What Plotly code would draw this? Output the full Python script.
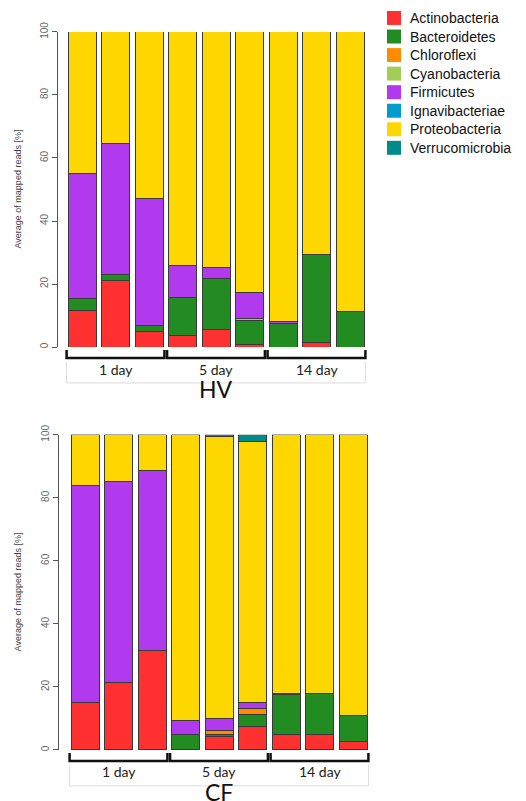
import plotly.graph_objects as go

W, H = 526, 801

phyla = ["Actinobacteria", "Bacteroidetes", "Chloroflexi", "Cyanobacteria",
         "Firmicutes", "Ignavibacteriae", "Proteobacteria", "Verrucomicrobia"]
colors = ["#FF3030", "#228B22", "#FF8C00", "#A2CD5A",
          "#B23AEE", "#009ACD", "#FFD700", "#008B8B"]

samples = ["1d-a", "1d-b", "1d-c", "5d-a", "5d-b", "5d-c", "14d-a", "14d-b", "14d-c"]
groups = ["1 day", "5 day", "14 day"]

# HV values (% of mapped reads), stacked bottom to top in phyla order
hv_actinobacteria = [11.7, 21.1, 4.9, 3.7, 5.5, 0.8, 0.0, 1.5, 0.0]
hv_bacteroidetes = [3.7, 2.0, 2.1, 12.0, 16.3, 7.7, 7.5, 27.9, 11.4]
hv_chloroflexi = [0, 0, 0, 0, 0, 0, 0, 0, 0]
hv_cyanobacteria = [0, 0, 0, 0, 0, 0.5, 0, 0, 0]
hv_firmicutes = [39.6, 41.4, 40.3, 10.1, 3.6, 8.3, 0.7, 0.0, 0.0]
hv_ignavibacteriae = [0, 0, 0, 0, 0, 0, 0, 0, 0]
hv_proteobacteria = [45.0, 35.5, 52.7, 74.2, 74.6, 82.7, 91.8, 70.6, 88.6]
hv_verrucomicrobia = [0, 0, 0, 0, 0, 0, 0, 0, 0]

# CF values
cf_actinobacteria = [15.0, 21.4, 31.5, 0.3, 4.4, 7.6, 5.0, 5.0, 2.7]
cf_bacteroidetes = [0, 0, 0, 4.7, 0.6, 3.7, 12.6, 12.8, 8.1]
cf_chloroflexi = [0, 0, 0, 0, 1.3, 1.7, 0, 0, 0]
cf_cyanobacteria = [0, 0, 0, 0, 0, 0, 0, 0, 0]
cf_firmicutes = [68.9, 63.8, 57.3, 4.4, 3.7, 2.0, 0.2, 0.2, 0.2]
cf_ignavibacteriae = [0, 0, 0, 0, 0, 0, 0, 0, 0]
cf_proteobacteria = [16.1, 14.8, 11.2, 90.6, 89.5, 82.8, 82.2, 82.0, 89.0]
cf_verrucomicrobia = [0, 0, 0, 0, 0.5, 2.2, 0, 0, 0]

hv = [hv_actinobacteria, hv_bacteroidetes, hv_chloroflexi, hv_cyanobacteria,
      hv_firmicutes, hv_ignavibacteriae, hv_proteobacteria, hv_verrucomicrobia]
cf = [cf_actinobacteria, cf_bacteroidetes, cf_chloroflexi, cf_cyanobacteria,
      cf_firmicutes, cf_ignavibacteriae, cf_proteobacteria, cf_verrucomicrobia]

yticks = [0, 20, 40, 60, 80, 100]

fig = go.Figure()

panels = [
    # (data, xaxis, yaxis, x_px_left, y_px_top, y_px_bottom, axis_px, title)
    (hv, "x", "y", 65.25, 31, 347, 57, "HV"),
    (cf, "x2", "y2", 68.25, 435, 751, 58, "CF"),
]
slot = 33.5
n = len(samples)


def px2py(p):
    # target pixel (from top) -> paper fraction, with a small vertical correction
    q = (p - 9) / 0.989
    return 1 - q / H


shapes = []
annotations = []

for pi, (data, xa, ya, xl, yt, yb, axpx, title) in enumerate(panels):
    for name, col, vals in zip(phyla, colors, data):
        fig.add_trace(go.Bar(
            x=list(range(n)), y=vals, name=name, xaxis=xa, yaxis=ya,
            marker=dict(color=col, line=dict(color="#3a3a3a", width=1)),
            showlegend=False, hoverinfo="name+y"))
    xr = xl + slot * n
    sfx = "" if pi == 0 else "2"
    fig.update_layout(**{
        "xaxis" + sfx: dict(domain=[xl / W, xr / W], range=[-0.5, n - 0.5],
                            visible=False, anchor=ya),
        "yaxis" + sfx: dict(domain=[px2py(yb), px2py(yt)], range=[0, 100],
                            anchor="free", position=axpx / W,
                            showgrid=False, zeroline=False,
                            showline=True, linecolor="#555", linewidth=1,
                            ticks="outside", ticklen=5, tickcolor="#555",
                            tickvals=yticks, tickangle=-90,
                            tickfont=dict(family="Liberation Sans", size=10, color="#666")),
    })

    def xpaper(x):
        return (xl + (x + 0.5) * slot) / W

    # group brackets, box and labels
    b_top = yb + 3
    b_bot = yb + 11
    for gi, g in enumerate(groups):
        x0 = xpaper(gi * 3 - 0.46)
        x1 = xpaper(gi * 3 + 2.46)
        shapes.append(dict(type="path", xref="paper", yref="paper",
                           path=f"M{x0},{px2py(b_top)} L{x0},{px2py(b_bot)} L{x1},{px2py(b_bot)} L{x1},{px2py(b_top)}",
                           line=dict(color="#111", width=2.5)))
        annotations.append(dict(x=xpaper(gi * 3 + 1), y=px2py(yb + 22), xref="paper", yref="paper",
                                text=g, showarrow=False, xanchor="center", yanchor="middle",
                                font=dict(family="Lato", size=14, color="#222")))
    bx0 = xpaper(-0.46)
    bx1 = xpaper(n - 1 + 0.46)
    box_top = yb + 15
    box_bot = yb + 36
    shapes.append(dict(type="path", xref="paper", yref="paper",
                       path=f"M{bx0},{px2py(box_top)} L{bx0},{px2py(box_bot)} L{bx1},{px2py(box_bot)} L{bx1},{px2py(box_top)}",
                       line=dict(color="#dcdcdc", width=1)))
    annotations.append(dict(x=xpaper((n - 1) / 2), y=px2py(yb + 42), xref="paper", yref="paper",
                            text=title, showarrow=False, xanchor="center", yanchor="middle",
                            font=dict(family="Lato", size=23, color="#111")))
    annotations.append(dict(x=18 / W, y=px2py((yt + yb) / 2), xref="paper", yref="paper",
                            text="Average of mapped reads [%]", showarrow=False, textangle=-90,
                            xanchor="center", yanchor="middle",
                            font=dict(family="Liberation Sans", size=9, color="#444")))

# legend
for i, (name, col) in enumerate(zip(phyla, colors)):
    cy = 17 + i * 18.6
    shapes.append(dict(type="rect", xref="paper", yref="paper",
                       x0=387 / W, x1=401 / W, y0=px2py(cy + 7), y1=px2py(cy - 7),
                       fillcolor=col, line=dict(width=0)))
    annotations.append(dict(x=408 / W, y=px2py(cy), xref="paper", yref="paper",
                            text=name, showarrow=False, xanchor="left", yanchor="middle",
                            font=dict(family="Liberation Sans", size=14, color="#111")))

fig.update_layout(
    width=W, height=H, margin=dict(l=0, r=0, t=0, b=0),
    barmode="stack", bargap=0.164,
    plot_bgcolor="white", paper_bgcolor="white",
    shapes=shapes, annotations=annotations,
)

post = ("document.documentElement.style.margin='0';"
        "document.body.style.margin='0';document.body.style.overflow='hidden';"
        "var gd=document.getElementById('{plot_id}');"
        "gd.style.position='fixed';gd.style.top='0px';gd.style.left='0px';")

fig.write_html("out.html", config={"displayModeBar": False}, post_script=post)
